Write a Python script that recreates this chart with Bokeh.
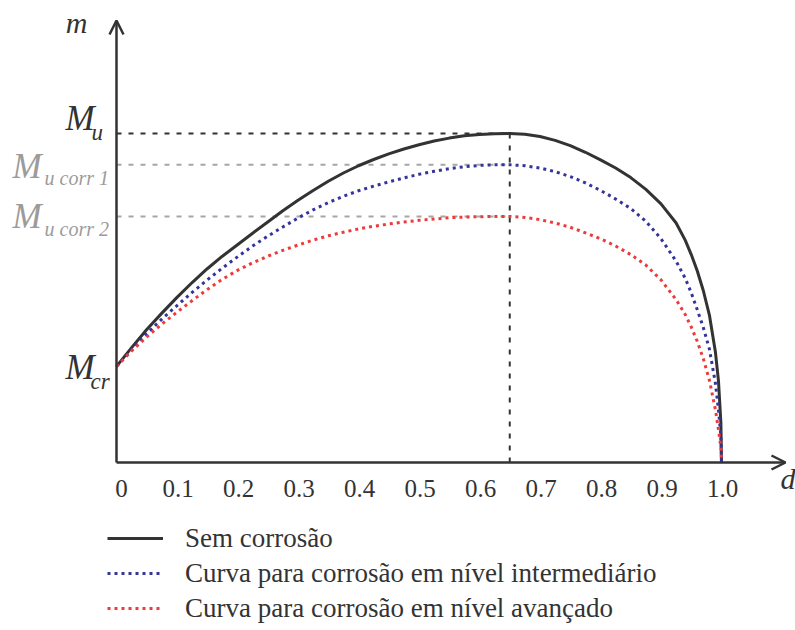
from bokeh.plotting import figure
from bokeh.models import Range1d, Arrow, OpenHead, Legend, LegendItem, ColumnDataSource
from bokeh.core.properties import value
from bokeh.embed import file_html
from bokeh.resources import INLINE

# Damage (d) versus moment (m) curves
d = [0.0, 0.025, 0.05, 0.075, 0.10, 0.125, 0.15, 0.175, 0.20, 0.225,
     0.25, 0.275, 0.30, 0.325, 0.35, 0.375, 0.40, 0.425, 0.45, 0.475,
     0.50, 0.525, 0.55, 0.575, 0.60, 0.625, 0.65, 0.675, 0.70, 0.725,
     0.75, 0.775, 0.80, 0.825, 0.85, 0.875, 0.90, 0.925, 0.94, 0.95,
     0.96, 0.97, 0.98, 0.99, 0.995, 0.999, 1.0]
m_sem = [0.292, 0.349, 0.404, 0.454, 0.502, 0.547, 0.589, 0.627, 0.662, 0.697,
         0.731, 0.765, 0.797, 0.827, 0.855, 0.880, 0.902, 0.921, 0.938, 0.953,
         0.966, 0.977, 0.986, 0.993, 0.997, 0.999, 1.000, 0.998, 0.991, 0.979,
         0.963, 0.943, 0.920, 0.895, 0.866, 0.830, 0.786, 0.728, 0.676, 0.632,
         0.582, 0.522, 0.448, 0.335, 0.248, 0.120, 0.0]
m_inter = [0.292, 0.343, 0.392, 0.436, 0.477, 0.517, 0.555, 0.591, 0.625, 0.658,
           0.688, 0.716, 0.743, 0.768, 0.790, 0.809, 0.826, 0.840, 0.853, 0.865,
           0.876, 0.885, 0.893, 0.899, 0.903, 0.905, 0.905, 0.902, 0.895, 0.884,
           0.869, 0.850, 0.827, 0.801, 0.772, 0.733, 0.680, 0.612, 0.560, 0.516,
           0.464, 0.410, 0.345, 0.240, 0.160, 0.080, 0.0]
m_avanc = [0.292, 0.339, 0.382, 0.421, 0.457, 0.492, 0.526, 0.557, 0.584, 0.607,
           0.627, 0.645, 0.661, 0.676, 0.689, 0.700, 0.710, 0.718, 0.725, 0.731,
           0.736, 0.740, 0.744, 0.746, 0.747, 0.748, 0.748, 0.745, 0.738, 0.728,
           0.715, 0.698, 0.680, 0.658, 0.632, 0.600, 0.555, 0.495, 0.450, 0.412,
           0.368, 0.315, 0.250, 0.160, 0.100, 0.045, 0.0]

series_names = ["Sem corrosão",
                "Curva para corrosão em nível intermediário",
                "Curva para corrosão em nível avançado"]

# Characteristic moment levels
M_u = 1.0
M_u_corr1 = 0.905
M_u_corr2 = 0.748
M_cr = 0.292
d_peak = 0.65

level_values = [M_u, M_u_corr1, M_u_corr2, M_cr]
level_main = ["M", "M", "M", "M"]
level_sub = ["u", "u corr 1", "u corr 2", "cr"]

tick_values = [0.0, 0.1, 0.2, 0.3, 0.4, 0.5, 0.6, 0.7, 0.8, 0.9, 1.0]
tick_labels = ["0", "0.1", "0.2", "0.3", "0.4", "0.5", "0.6", "0.7", "0.8", "0.9", "1.0"]

DARK = "#333333"
GRAY = "#a6a6a6"
GRAY_TXT = "#9b9b9b"
BLUE = "#34349a"
RED = "#ee3a3a"
SERIF = value("Liberation Serif")

W, H = 795, 630
x0_px, x1_px = 116, 721   # d = 0 and d = 1
y0_px, y1_px = 462, 133   # m = 0 and m = 1
sx = x1_px - x0_px
sy = y0_px - y1_px

p = figure(width=W, height=H, output_backend="svg", toolbar_location=None,
           x_range=Range1d(-x0_px / sx, (W - x0_px) / sx),
           y_range=Range1d((y0_px - H) / sy, y0_px / sy),
           min_border=0, outline_line_color=None,
           x_axis_location=None, y_axis_location=None)
p.grid.visible = False
p.background_fill_color = "white"

# Reference lines from the axis to the peak
p.segment(x0=[0, 0, 0], y0=[M_u, M_u_corr1, M_u_corr2], x1=[d_peak] * 3,
          y1=[M_u, M_u_corr1, M_u_corr2],
          line_color=[DARK, GRAY, GRAY], line_width=2, line_dash="5 7")
p.segment(x0=[d_peak], y0=[0], x1=[d_peak], y1=[M_u],
          line_color=DARK, line_width=2, line_dash="5 7")

# Curves
r_sem = p.line(d, m_sem, line_color=DARK, line_width=3, line_join="round")
r_int = p.line(d, m_inter, line_color=BLUE, line_width=3, line_dash="3 4")
r_av = p.line(d, m_avanc, line_color=RED, line_width=3, line_dash="3 4")

# Axes with arrow heads
y_top = (y0_px - 20) / sy
x_end = (785 - x0_px) / sx
for xs, ys, xe, ye in [(0, 0, 0, y_top), (0, 0, x_end, 0)]:
    p.add_layout(Arrow(end=OpenHead(size=14, line_width=2.5, line_color=DARK),
                       x_start=xs, y_start=ys, x_end=xe, y_end=ye,
                       line_width=2.5, line_color=DARK))

# Axis names
p.text(x=[0], y=[y_top], text=["m"], x_offset=[-40], y_offset=[2],
       text_font=SERIF, text_font_style="italic", text_font_size="30px",
       text_color=DARK, text_align="center", text_baseline="middle")
p.text(x=[x_end], y=[0], text=["d"], x_offset=[-5], y_offset=[16],
       text_font=SERIF, text_font_style="italic", text_font_size="30px",
       text_color=DARK, text_align="left", text_baseline="middle")

# Tick labels along the d axis
p.text(x=tick_values, y=[0] * len(tick_values), text=tick_labels,
       x_offset=[5] + [1] * (len(tick_values) - 1), y_offset=[26] * len(tick_values),
       text_font=SERIF, text_font_size="25px", text_color=DARK,
       text_align="center", text_baseline="middle")

# Moment level labels (M with subscript)
lab = ColumnDataSource(dict(
    x=[0] * 4, y=level_values, main=level_main, sub=level_sub,
    color=[DARK, GRAY_TXT, GRAY_TXT, DARK],
    mx=[-51, -104, -104, -51], my=[-15, 2, 0, 1],
    bx=[-25, -72, -72, -26], by=[-1, 13, 13, 15],
    sub_size=["23px", "20px", "20px", "23px"],
))
p.text(x="x", y="y", text="main", source=lab, x_offset="mx", y_offset="my",
       text_font=SERIF, text_font_style="italic", text_font_size="35px",
       text_color="color", text_align="left", text_baseline="middle")
p.text(x="x", y="y", text="sub", source=lab, x_offset="bx", y_offset="by",
       text_font=SERIF, text_font_style="italic", text_font_size="sub_size",
       text_color="color", text_align="left", text_baseline="middle")

legend = Legend(items=[LegendItem(label=value(series_names[0]), renderers=[r_sem]),
                       LegendItem(label=value(series_names[1]), renderers=[r_int]),
                       LegendItem(label=value(series_names[2]), renderers=[r_av])],
                location=(107, 6), orientation="vertical",
                glyph_width=56, glyph_height=32, label_height=32, spacing=3,
                label_standoff=22, padding=0, margin=0,
                label_text_font="Liberation Serif", label_text_font_size="27px",
                label_text_color=DARK, border_line_color=None,
                background_fill_alpha=0)
p.add_layout(legend)

open("out.html", "w").write(file_html(p, INLINE))
